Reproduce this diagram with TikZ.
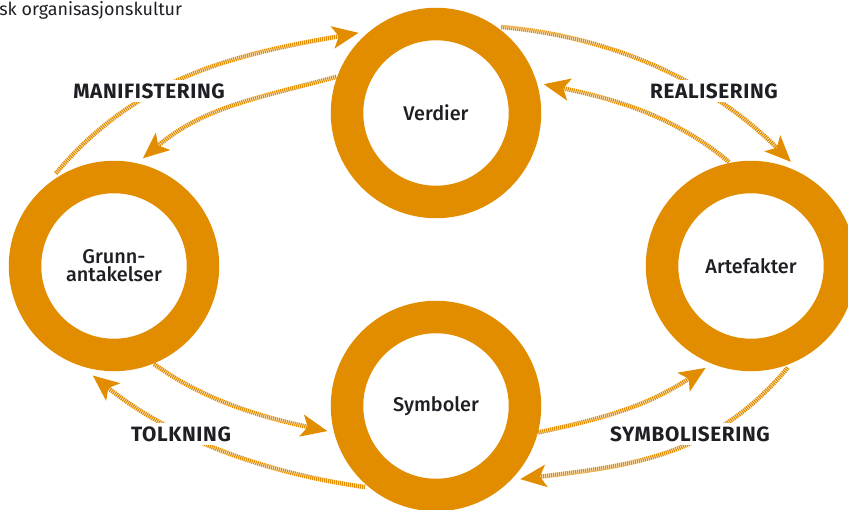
\documentclass[tikz,border=0pt]{standalone}
\usepackage{fontspec}
\setmainfont{Fira Sans}
\newfontfamily\mediumfont{Fira Sans Medium}
\usetikzlibrary{arrows.meta}
\definecolor{ringorange}{RGB}{226,141,0}
\definecolor{textdark}{RGB}{30,30,36}

\begin{document}
\begin{tikzpicture}[x=0.02cm, y=0.02cm, >={Stealth[length=0.52cm, width=0.44cm, inset=0.12cm]}, text=textdark,
		ring/.style={circle, draw=ringorange, line width=0.65cm, minimum size=3.56cm, inner sep=0pt, outer sep=0.45cm, align=center, font=\mediumfont\fontsize{11.3}{10.2}\selectfont},
		hatch/.style={draw=ringorange, line width=0.09cm, dash pattern=on 0.7pt off 0.45pt, ->, shorten <=-0.13cm},
		lbl/.style={fill=white, inner sep=2pt, font=\fontsize{11.8}{12}\selectfont\bfseries\addfontfeature{LetterSpace=3}}]
	\useasboundingbox (0,0) rectangle (848,510);
	\node[anchor=base west, inner sep=0pt, font=\fontsize{10.2}{11}\selectfont] (title) at (-1,494) {sk organisasjonskultur};
	% the four rings
	\node[ring] (verdier) at (436,397) {Verdier};
	\node[ring] (artefakter) at (751,244) {Artefakter};
	\node[ring] (symboler) at (436,104) {Symboler};
	\node[ring] (grunn) at (114,244) {Grunn-\\antakelser};
	% connectors
	\draw[hatch] (grunn.119) to[out=50, in=190, looseness=0.95] (verdier.134);
	\draw[hatch] (verdier.162) to[out=195, in=40, looseness=1] (grunn.75);
	\draw[hatch] (verdier.50) to[out=-5, in=135, looseness=0.9] (artefakter.69);
	\draw[hatch] (artefakter.104) to[out=140, in=-12, looseness=0.9] (verdier.15);
	\draw[hatch] (grunn.-66) to[out=-36, in=168, looseness=0.85] (symboler.193);
	\draw[hatch] (symboler.226) to[out=172, in=-39, looseness=0.87] (grunn.259);
	\draw[hatch] (symboler.-13) to[out=12, in=213, looseness=1] (artefakter.246);
	\draw[hatch] (artefakter.-73) to[out=230, in=7, looseness=1] (symboler.-41);
	% labels
	\node[lbl] (manifest) at (149,419) {MANIFISTERING};
	\node[lbl] (real) at (714,419) {REALISERING};
	\node[lbl] (tolk) at (181,76) {TOLKNING};
	\node[lbl] (symbol) at (690,76) {SYMBOLISERING};
\end{tikzpicture}
\end{document}
